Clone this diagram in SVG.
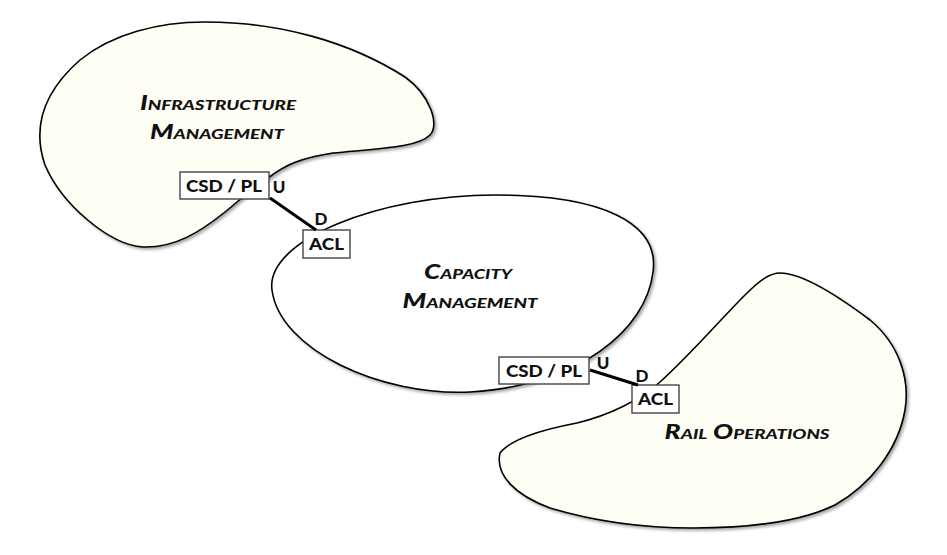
<svg xmlns="http://www.w3.org/2000/svg" width="947" height="555" viewBox="0 0 947 555">
<style>
.blob{stroke:#000;stroke-width:1.6;}
.cream{fill:#fefef4;}
.white{fill:#ffffff;}
.title{font-family:"Lato","Liberation Sans",sans-serif;font-weight:900;font-style:italic;font-size:20px;font-variant:small-caps;fill:#111;text-anchor:middle;}
.box{fill:#fff;stroke:#444;stroke-width:1.4;}
.boxtxt{font-family:"Lato","Liberation Sans",sans-serif;font-weight:900;font-size:16px;fill:#111;text-anchor:middle;}
.lbl{font-family:"Lato","Liberation Sans",sans-serif;font-weight:900;font-size:17px;fill:#111;text-anchor:middle;}
.conn{stroke:#000;stroke-width:3;fill:none;}
</style>
<defs>
<filter id="sh" x="-10%" y="-10%" width="125%" height="125%">
<feDropShadow dx="2" dy="2" stdDeviation="1.5" flood-color="#000" flood-opacity="0.35"/>
</filter>
</defs>
<rect width="947" height="555" fill="#fff"/>
<g id="infrastructure-management">
<path class="blob cream" filter="url(#sh)" d="M 143,247 C 110,245 62,205 45,165 C 33,130 40,95 80,60 C 112,34 158,22 205,22 C 280,22 350,42 405,77 C 430,95 440,125 430,135 C 418,147 385,148 333,153 C 300,158 285,165 268,178 C 250,190 240,200 225,212 C 200,232 175,248 143,247 Z"/>
<text class="title" x="218" y="110" textLength="156" lengthAdjust="spacingAndGlyphs">Infrastructure</text>
<text class="title" x="217" y="139" textLength="134" lengthAdjust="spacingAndGlyphs">Management</text>
<rect class="box" x="180" y="172" width="89" height="27"/>
<text class="boxtxt" x="224" y="192" textLength="76" lengthAdjust="spacingAndGlyphs">CSD / PL</text>
</g>
<g id="capacity-management">
<path class="blob white" filter="url(#sh)" d="M 272,290 C 265,240 380,195 495,195 C 600,195 660,222 653,272 C 646,330 580,385 470,392 C 380,396 280,350 272,290 Z"/>
<text class="title" x="468" y="279" textLength="88" lengthAdjust="spacingAndGlyphs">Capacity</text>
<text class="title" x="470" y="308" textLength="135" lengthAdjust="spacingAndGlyphs">Management</text>
<rect class="box" x="303" y="230" width="47" height="28"/>
<text class="boxtxt" x="326.5" y="250" textLength="35" lengthAdjust="spacingAndGlyphs">ACL</text>
<rect class="box" x="499" y="357" width="90" height="27"/>
<text class="boxtxt" x="544" y="377" textLength="76" lengthAdjust="spacingAndGlyphs">CSD / PL</text>
</g>
<g id="rail-operations">
<path class="blob cream" filter="url(#sh)" d="M 500,453 C 510,440 540,430 577,423 C 610,415 640,400 660,382 C 690,355 720,320 745,295 C 760,280 770,273 780,273 C 800,273 830,290 870,320 C 900,345 910,380 905,410 C 898,450 870,485 835,505 C 800,522 750,528 693,528 C 640,528 590,520 550,508 C 515,495 495,475 500,453 Z"/>
<text class="title" x="747" y="439" textLength="165" lengthAdjust="spacingAndGlyphs">Rail Operations</text>
<rect class="box" x="632" y="385" width="47" height="28"/>
<text class="boxtxt" x="655.5" y="405" textLength="35" lengthAdjust="spacingAndGlyphs">ACL</text>
</g>
<g id="connectors">
<line class="conn" x1="270" y1="198" x2="316" y2="230"/>
<text class="lbl" x="279" y="193">U</text>
<text class="lbl" x="321" y="225">D</text>
<line class="conn" x1="590" y1="370" x2="638" y2="385"/>
<text class="lbl" x="603" y="369">U</text>
<text class="lbl" x="642" y="382">D</text>
</g>
</svg>
